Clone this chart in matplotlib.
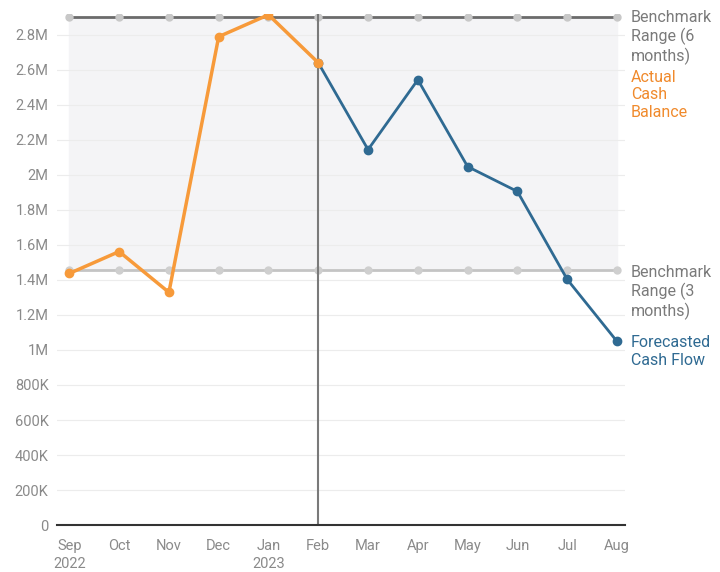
import matplotlib.pyplot as plt
from matplotlib.ticker import FuncFormatter

plt.rcParams['font.family'] = ['Roboto', 'DejaVu Sans']

# data
months = ['Sep\n2022', 'Oct', 'Nov', 'Dec', 'Jan\n2023', 'Feb',
          'Mar', 'Apr', 'May', 'Jun', 'Jul', 'Aug']
actual = [1.437e6, 1.562e6, 1.329e6, 2.789e6, 2.914e6, 2.64e6]
forecast = [2.64e6, 2.144e6, 2.543e6, 2.047e6, 1.905e6, 1.403e6, 1.049e6]
bench_6m = [2.903e6] * 12
bench_3m = [1.454e6] * 12
split_month = 5  # Feb

orange = '#F79A3A'
blue = '#2F6A92'
grey_txt = '#8a8a8a'

x = list(range(len(months)))

fig = plt.figure(figsize=(7.2, 5.72), dpi=100)
ax = fig.add_axes([0.079, 0.082, 0.789, 0.894])

# benchmark band
ax.fill_between(x, bench_3m, bench_6m, color='#f4f4f6', zorder=0)

# grid
for v in range(200000, 2900000, 200000):
    ax.axhline(v, color='#ececec', lw=0.8, zorder=1)

ax.plot(x, bench_6m, color='#6b6b6b', lw=2, marker='o', ms=5,
        mfc='#c8c8c8', mec='#c8c8c8', zorder=2)
ax.plot(x, bench_3m, color='#c4c4c4', lw=2, marker='o', ms=5,
        mfc='#cfcfcf', mec='#cfcfcf', zorder=2)

ax.axvline(split_month, color='#7a7a7a', lw=1.5, zorder=2)

ax.plot(x[:len(actual)], actual, color=orange, lw=2.5, marker='o', ms=6, zorder=4)
ax.plot(x[split_month:], forecast, color=blue, lw=2, marker='o', ms=6, zorder=3)

ax.set_xlim(-0.25, 11.16)
ax.set_ylim(0, 2.92e6)
ax.set_xticks(x)
ax.set_xticklabels(months, linespacing=1.35)
ax.set_yticks(range(0, 2900000, 200000))


def fmt(v, pos):
    if v == 0:
        return '0'
    if v >= 1e6:
        return f'{v / 1e6:g}M'
    return f'{v / 1e3:g}K'


ax.yaxis.set_major_formatter(FuncFormatter(fmt))
ax.tick_params(axis='both', colors=grey_txt, labelsize=10.5, length=0)
ax.tick_params(axis='x', pad=10)
ax.tick_params(axis='y', pad=6)

for s in ['left', 'right', 'top']:
    ax.spines[s].set_visible(False)
ax.spines['bottom'].set_color('#333333')
ax.spines['bottom'].set_linewidth(1.5)

# right-hand labels
tx = 11.28
lab = dict(fontsize=11.5, va='top', ha='left', linespacing=1.2, clip_on=False)
ax.text(tx, 2.943e6, 'Benchmark\nRange (6\nmonths)', color='#7a7a7a', **lab)
ax.text(tx, 2.60e6, 'Actual\nCash\nBalance', color='#F08A2C', **lab)
ax.text(tx, 1.483e6, 'Benchmark\nRange (3\nmonths)', color='#7a7a7a', **lab)
ax.text(tx, 1.084e6, 'Forecasted\nCash Flow', color=blue, **lab)

fig.savefig('out.png', dpi=100)
